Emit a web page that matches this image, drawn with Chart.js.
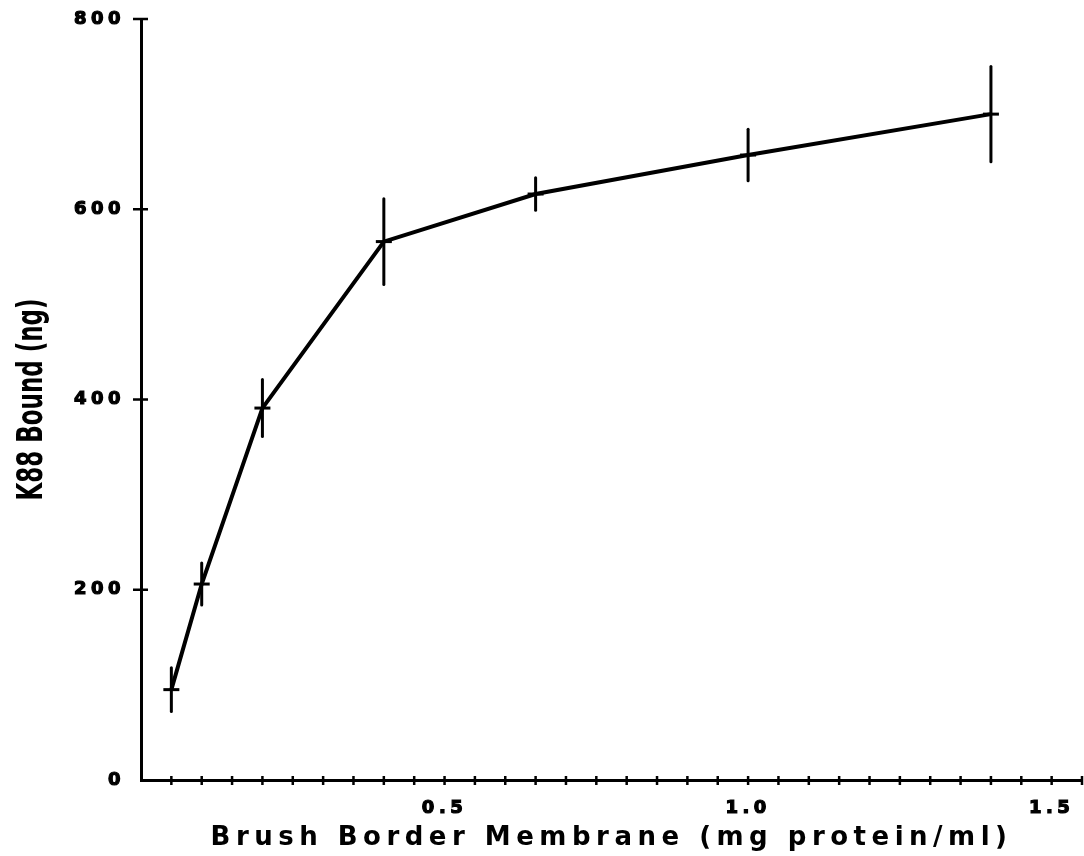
<!DOCTYPE html>
<html>
<head>
<meta charset="utf-8">
<script src="https://cdn.jsdelivr.net/npm/chart.js@4/dist/chart.umd.min.js"></script>
<style>
  html, body { margin: 0; padding: 0; background: #fff; }
</style>
</head>
<body>
<canvas id="myChart" width="1084" height="856"></canvas>
<script>
// data
const concentration = [0.05, 0.1, 0.2, 0.4, 0.65, 1.0, 1.4];   // mg protein/ml
const k88Bound = [95, 206, 391, 566, 616, 657, 700];           // ng
const k88Error = [23, 22, 30, 45, 17, 27, 50];                 // +/- ng
const xLabelledTicks = [0.5, 1.0, 1.5];
const xTitle = 'Brush Border Membrane (mg protein/ml)';
const yTitle = 'K88 Bound (ng)';

const plotterFont = "'DejaVu Sans', sans-serif";
const plotRight = 1082;

// wrap a scale draw step: extra letter spacing, optional squeeze along the scale
function withText(scale, fn, spacing, squeeze) {
    const orig = scale[fn];
    scale[fn] = function () {
        const ctx = this.ctx;
        ctx.save();
        ctx.letterSpacing = spacing;
        if (squeeze) {
            const cy = (this.top + this.bottom) / 2;
            ctx.translate(0, cy);
            ctx.scale(1, squeeze);
            ctx.translate(0, -cy);
        }
        orig.apply(this, arguments);
        ctx.restore();
    };
}

const textPlugin = {
    id: 'plotterText',
    afterLayout(chart) {
        // stretch the x axis out to the right edge like the original
        const x = chart.scales.x;
        if (x.right !== plotRight) {
            x.right = plotRight;
            x.width = plotRight - x.left;
            chart.chartArea.right = plotRight;
            chart.chartArea.width = plotRight - chart.chartArea.left;
            x.configure();
        }
        if (chart._wrapped) return;
        chart._wrapped = true;
        withText(chart.scales.x, 'drawLabels', '4.5px');
        withText(chart.scales.x, 'drawTitle', '5.5px');
        withText(chart.scales.y, 'drawLabels', '4.5px');
        withText(chart.scales.y, 'drawTitle', '0px', 0.73);
    }
};

// tick marks that cross the axis lines
const crossTicks = {
    id: 'crossTicks',
    beforeDatasetsDraw(chart) {
        const { ctx, scales: { x, y } } = chart;
        const x0 = x.getPixelForValue(0);
        const y0 = y.getPixelForValue(0);
        ctx.save();
        ctx.strokeStyle = '#000';
        ctx.lineWidth = 2.5;
        ctx.beginPath();
        x.ticks.forEach(t => {
            if (t.value <= 0) return;
            const px = x.getPixelForValue(t.value);
            ctx.moveTo(px, y0 - 4);
            ctx.lineTo(px, y0 + 5);
        });
        y.ticks.forEach(t => {
            if (t.value <= 0) return;
            const py = y.getPixelForValue(t.value);
            ctx.moveTo(x0 - 8, py);
            ctx.lineTo(x0 + 7, py);
        });
        ctx.stroke();
        ctx.restore();
    }
};

// vertical error bars, no caps
const errorBars = {
    id: 'errorBars',
    afterDatasetsDraw(chart) {
        const { ctx, scales: { x, y } } = chart;
        ctx.save();
        ctx.strokeStyle = '#000';
        ctx.lineWidth = 3;
        ctx.lineCap = 'round';
        concentration.forEach((c, i) => {
            const px = x.getPixelForValue(c);
            ctx.beginPath();
            ctx.moveTo(px, y.getPixelForValue(k88Bound[i] - k88Error[i]));
            ctx.lineTo(px, y.getPixelForValue(k88Bound[i] + k88Error[i]));
            ctx.stroke();
        });
        ctx.restore();
    }
};

const myChartRef = document.getElementById('myChart').getContext('2d');

new Chart(myChartRef, {
    type: 'scatter',
    data: {
        datasets: [
            {
                label: 'K88 bound',
                data: concentration.map((c, i) => ({ x: c, y: k88Bound[i] })),
                showLine: true,
                tension: 0,
                borderColor: '#000',
                borderWidth: 4,
                pointStyle: 'line',
                pointRadius: 8,
                pointBorderWidth: 3,
                pointBorderColor: '#000',
                pointBackgroundColor: '#000'
            }
        ]
    },
    options: {
        responsive: false,
        animation: false,
        devicePixelRatio: 1,
        layout: { padding: { top: 19, right: 2, left: 0, bottom: 0 } },
        plugins: {
            legend: { display: false },
            tooltip: { enabled: false }
        },
        scales: {
            x: {
                type: 'linear',
                min: 0,
                max: 1.55,
                grid: { display: false, drawTicks: false },
                border: { display: true, color: '#000', width: 3 },
                ticks: {
                    stepSize: 0.05,
                    autoSkip: false,
                    maxRotation: 0,
                    padding: 18,
                    color: '#000',
                    textStrokeColor: '#000',
                    textStrokeWidth: 1.2,
                    font: { family: plotterFont, size: 18, weight: 'bold' },
                    callback: (v) => xLabelledTicks.some(l => Math.abs(l - v) < 1e-6) ? v.toFixed(1) : ''
                },
                title: {
                    display: true,
                    text: xTitle,
                    color: '#000',
                    font: { family: plotterFont, size: 26, weight: 'bold' },
                    padding: { top: 0, bottom: 2 }
                },
                afterFit: (scale) => {
                    scale.height = 76;
                    scale.paddingLeft = 0;
                    scale.paddingRight = 0;
                }
            },
            y: {
                type: 'linear',
                min: 0,
                max: 800,
                grid: { display: false, drawTicks: false },
                border: { display: true, color: '#000', width: 3 },
                ticks: {
                    stepSize: 200,
                    padding: 16,
                    color: '#000',
                    textStrokeColor: '#000',
                    textStrokeWidth: 1.2,
                    font: { family: plotterFont, size: 18, weight: 'bold' }
                },
                title: {
                    display: true,
                    text: yTitle,
                    color: '#000',
                    font: { family: "'DejaVu Sans Condensed', 'DejaVu Sans', sans-serif", size: 35, weight: 'bold' },
                    padding: { top: 12, bottom: 0 }
                },
                afterFit: (scale) => {
                    scale.width = 141;
                    scale.paddingTop = 0;
                    scale.paddingBottom = 0;
                }
            }
        }
    },
    plugins: [textPlugin, crossTicks, errorBars]
});
</script>
</body>
</html>
